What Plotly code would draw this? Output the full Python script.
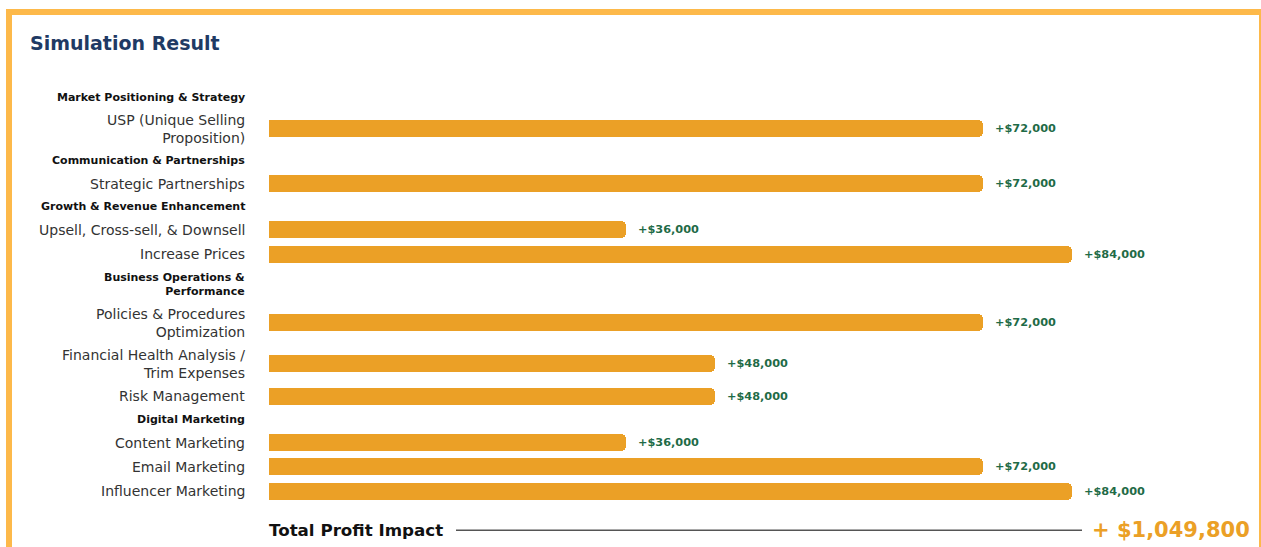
import plotly.graph_objects as go

# ---------------- data ----------------
title_text = "Simulation Result"
groups = [
    "Market Positioning & Strategy",
    "Communication & Partnerships",
    "Growth & Revenue Enhancement",
    "Business Operations &<br>Performance",
    "Digital Marketing",
]
items = [
    "USP (Unique Selling<br>Proposition)",
    "Strategic Partnerships",
    "Upsell, Cross-sell, & Downsell",
    "Increase Prices",
    "Policies & Procedures<br>Optimization",
    "Financial Health Analysis /<br>Trim Expenses",
    "Risk Management",
    "Content Marketing",
    "Email Marketing",
    "Influencer Marketing",
]
item_group = [0, 1, 2, 2, 3, 3, 3, 4, 4, 4]
impact_scores = [8, 8, 4, 9, 8, 5, 5, 4, 8, 9]
profits = [72000, 72000, 36000, 84000, 72000, 48000, 48000, 36000, 72000, 84000]
total_label = "Total Profit Impact"
total_profit = 1049800

# ---------------- layout constants ----------------
W, H = 1261, 547
BAR_X0 = 269          # px where bars start
UNIT_PX = 89.25       # px per score unit
LABEL_RIGHT = 247     # px right edge of labels
ORANGE = "#EBA026"
FRAME = "#FDB94A"
GREEN = "#1F6B47"
NAVY = "#1F3A64"
FONT = "DejaVu Sans"

# row heights by kind and number of lines
HDR_H = {1: 22.2, 2: 36}
ITEM_H = {1: 24.2, 2: 41}
TOP = 86


def nlines(s):
    return s.count("<br>") + 1


rows = []  # (kind, index, centre)
cur = TOP
last_group = None
for i, g in enumerate(item_group):
    if g != last_group:
        h = HDR_H[nlines(groups[g])]
        rows.append(("h", g, cur + h / 2))
        cur += h
        last_group = g
    h = ITEM_H[nlines(items[i])]
    rows.append(("i", i, cur + h / 2))
    cur += h
total_y = cur + 27

item_y = [c for k, i, c in rows if k == "i"]

fig = go.Figure()
fig.add_trace(go.Bar(
    x=impact_scores,
    y=item_y,
    orientation="h",
    width=17,
    marker=dict(color=ORANGE, cornerradius=5, line=dict(width=0)),
    hoverinfo="skip",
))

annotations = []
for kind, idx, cy in rows:
    if kind == "h":
        annotations.append(dict(
            text="<b>" + groups[idx] + "</b>", x=LABEL_RIGHT / W, xref="paper",
            y=cy, yref="y", xanchor="right", yanchor="middle", align="right",
            showarrow=False, font=dict(family=FONT, size=11, color="#111111"),
        ))
    else:
        annotations.append(dict(
            text=items[idx], x=LABEL_RIGHT / W, xref="paper",
            y=cy, yref="y", xanchor="right", yanchor="middle", align="right",
            showarrow=False, font=dict(family=FONT, size=14, color="#333333"),
        ))
        annotations.append(dict(
            text="<b>+${:,}</b>".format(profits[idx]), x=impact_scores[idx], xref="x",
            y=cy, yref="y", xanchor="left", yanchor="middle", xshift=10,
            showarrow=False, font=dict(family=FONT, size=11.3, color=GREEN),
        ))

# title
annotations.append(dict(
    text="<b>" + title_text + "</b>", x=28 / W, xref="paper", y=43, yref="y",
    xanchor="left", yanchor="middle", showarrow=False,
    font=dict(family=FONT, size=19, color=NAVY),
))
# total row
annotations.append(dict(
    text="<b>" + total_label + "</b>", x=0, xref="x", y=total_y, yref="y",
    xanchor="left", yanchor="middle", showarrow=False, xshift=-2,
    font=dict(family=FONT, size=16.7, color="#111111"),
))
annotations.append(dict(
    text="<b>+ ${:,}</b>".format(total_profit), x=1252 / W, xref="paper", y=total_y, yref="y",
    xanchor="right", yanchor="middle", showarrow=False,
    font=dict(family=FONT, size=21, color=ORANGE),
))

shapes = [
    dict(type="rect", xref="paper", yref="paper", x0=6 / W, x1=1, y0=1 - 9 / H, y1=1 - 15 / H,
         fillcolor=FRAME, line=dict(width=0), layer="below"),
    dict(type="rect", xref="paper", yref="paper", x0=6 / W, x1=12 / W, y0=0, y1=1 - 9 / H,
         fillcolor=FRAME, line=dict(width=0), layer="below"),
    dict(type="rect", xref="paper", yref="paper", x0=1259 / W, x1=1261 / W, y0=0, y1=1 - 9 / H,
         fillcolor=FRAME, line=dict(width=0), layer="below"),
    dict(type="line", xref="paper", yref="y", x0=456 / W, x1=1082 / W, y0=total_y, y1=total_y,
         line=dict(color="#555555", width=1.5)),
]

fig.update_layout(
    width=W, height=H,
    margin=dict(l=0, r=0, t=0, b=0),
    paper_bgcolor="white", plot_bgcolor="white",
    showlegend=False,
    xaxis=dict(range=[-BAR_X0 / UNIT_PX, (W - BAR_X0) / UNIT_PX], visible=False, fixedrange=True),
    yaxis=dict(range=[H, 0], visible=False, fixedrange=True),
    annotations=annotations,
    shapes=shapes,
    bargap=0,
)

fig.write_html("out.html", config={"displayModeBar": False})
